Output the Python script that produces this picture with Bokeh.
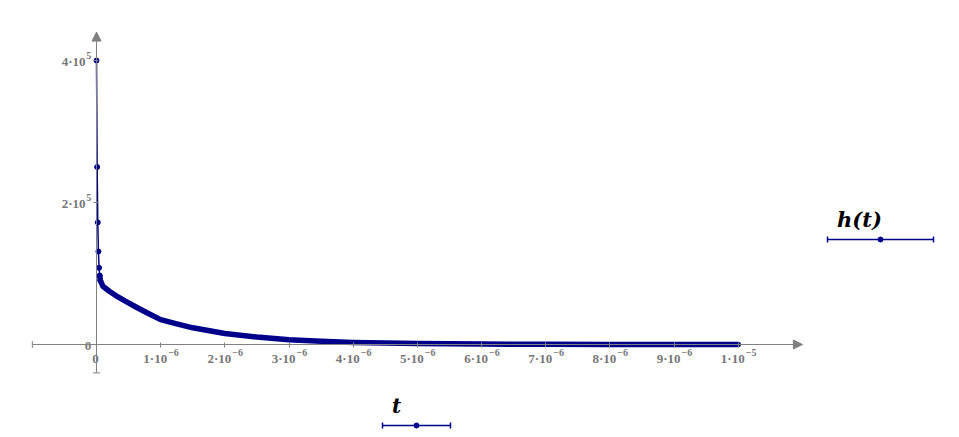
from bokeh.plotting import figure
from bokeh.models import Range1d, LinearAxis, FixedTicker, Arrow, NormalHead, Label
from bokeh.embed import file_html
from bokeh.resources import INLINE

# ---- data ----
t_vals = [0, 1e-8, 2e-8, 3e-8, 4e-8, 5e-8, 6e-8, 8e-8, 1e-7, 2e-7, 3e-7, 4.5e-7,
          6e-7, 8e-7, 1e-6, 1.25e-6, 1.5e-6, 2e-6, 2.5e-6, 3e-6, 3.5e-6, 4e-6,
          5e-6, 6e-6, 7e-6, 8e-6, 9e-6, 1e-5]
h_vals = [400000, 250000, 172000, 131000, 108000, 97000, 90000, 86000, 82000,
          75000, 69000, 61000, 53500, 44000, 35000, 29000, 23500, 15500, 10500,
          6800, 4600, 2900, 1300, 600, 280, 120, 50, 20]
n_fast = 6  # points drawn as separate dots at the start

x_ticks = [1e-6, 2e-6, 3e-6, 4e-6, 5e-6, 6e-6, 7e-6, 8e-6, 9e-6, 1e-5]
x_tick_base = ["1·10", "2·10", "3·10", "4·10", "5·10", "6·10", "7·10", "8·10",
               "9·10", "1·10"]
x_tick_exp = ["−6", "−6", "−6", "−6", "−6", "−6", "−6", "−6", "−6", "−5"]
y_ticks = [200000, 400000]
y_tick_base = ["2·10", "4·10"]
y_tick_exp = ["5", "5"]
zero_label = "0"

x_axis_limits = [-1e-6, 1.1e-5]
y_axis_limits = [-40000, 440000]

trace_label = "h(t)"
axis_var_label = "t"

# ---- layout ----
W, H = 951, 429
X0_PX, X1_PX = 96, 737.7   # page px of t=0 and t=1e-5
Y0_PX, Y1_PX = 344, 60     # page px of h=0 and h=4e5
sx = (X1_PX - X0_PX) / 1e-5
sy = (Y0_PX - Y1_PX) / 4e5

def px2x(px):
    return (px - X0_PX) / sx

def py2y(py):
    return (Y0_PX - py) / sy

x_range = Range1d(px2x(0), px2x(W))
y_range = Range1d(py2y(H), py2y(0))

p = figure(width=W, height=H, x_range=x_range, y_range=y_range,
           output_backend="svg", toolbar_location=None, min_border=0,
           x_axis_type=None, y_axis_type=None)
p.outline_line_color = None
p.background_fill_color = "white"

GRAY = "#808080"
LBL = "#777777"
FONT = "DejaVu Serif"
CURVE = "#00008b"

xaxis = LinearAxis(fixed_location=0, ticker=FixedTicker(ticks=x_ticks))
yaxis = LinearAxis(fixed_location=0, ticker=FixedTicker(ticks=y_ticks))
for ax in (xaxis, yaxis):
    ax.axis_line_color = GRAY
    ax.major_tick_line_color = GRAY
    ax.minor_tick_line_color = None
    ax.major_label_text_color = None
xaxis.bounds = tuple(x_axis_limits)
yaxis.bounds = tuple(y_axis_limits)
xaxis.major_tick_in = 2
xaxis.major_tick_out = 3
yaxis.major_tick_in = 2
yaxis.major_tick_out = 3
p.add_layout(xaxis, "below")
p.add_layout(yaxis, "left")

# tick labels with raised exponents
BASE_FS, EXP_FS = "13px", "10px"
DY = -4.5  # baseline correction
common = dict(text_baseline="alphabetic", text_font=FONT, text_color=LBL,
              text_font_style="bold")
p.text(x=x_ticks, y=[0] * len(x_ticks), text=x_tick_base, x_offset=6.5,
       y_offset=18.5 + DY, text_align="right", text_font_size=BASE_FS, **common)
p.text(x=x_ticks, y=[0] * len(x_ticks), text=x_tick_exp, x_offset=7.5,
       y_offset=12.5 + DY, text_align="left", text_font_size=EXP_FS, **common)
p.text(x=[0] * len(y_ticks), y=y_ticks, text=y_tick_base, x_offset=-11,
       y_offset=5 + DY, text_align="right", text_font_size=BASE_FS, **common)
p.text(x=[0] * len(y_ticks), y=y_ticks, text=y_tick_exp, x_offset=-10.3,
       y_offset=-0.7 + DY, text_align="left", text_font_size=EXP_FS, **common)
p.text(x=[0, 0], y=[0, 0], text=[zero_label, zero_label], x_offset=[-1, -8.5],
       y_offset=[19 + DY, 5.5 + DY], text_align="center", text_font_size=BASE_FS,
       **common)

# arrow heads
p.add_layout(Arrow(end=NormalHead(size=9, fill_color=GRAY, line_color=GRAY, line_width=1),
                   x_start=x_axis_limits[1] * 0.98, y_start=0,
                   x_end=x_axis_limits[1], y_end=0, line_color=GRAY))
p.add_layout(Arrow(end=NormalHead(size=9, fill_color=GRAY, line_color=GRAY, line_width=1),
                   x_start=0, y_start=y_axis_limits[1] * 0.98,
                   x_end=0, y_end=y_axis_limits[1], line_color=GRAY))
# end caps at the low ends
p.scatter([x_axis_limits[0]], [0], marker="dash", size=7, angle=1.5708,
          line_color=GRAY, line_width=1)
p.scatter([0], [y_axis_limits[0]], marker="dash", size=7,
          line_color=GRAY, line_width=1)

# curve
p.line(t_vals, h_vals, line_color=CURVE, line_width=1.5)
p.line(t_vals[n_fast - 1:], h_vals[n_fast - 1:], line_color=CURVE, line_width=5.5,
       line_join="round", line_cap="round")
p.scatter(t_vals[:n_fast + 1], h_vals[:n_fast + 1], marker="circle", size=5,
          fill_color=CURVE, line_color=CURVE)

# trace legend (Mathcad style)
def legend_item(text, tx_px, ty_px, lx_px, ly_px, half_w, fsize):
    p.add_layout(Label(x=px2x(tx_px), y=py2y(ty_px), text=text,
                       text_font=FONT, text_font_size=fsize,
                       text_font_style="bold italic", text_color="black",
                       text_align="center", text_baseline="middle"))
    p.segment(x0=[px2x(lx_px - half_w)], y0=[py2y(ly_px)],
              x1=[px2x(lx_px + half_w)], y1=[py2y(ly_px)],
              line_color=CURVE, line_width=1.5)
    p.scatter([px2x(lx_px - half_w), px2x(lx_px + half_w)], [py2y(ly_px)] * 2,
              marker="dash", angle=1.5708, size=6, line_color=CURVE, line_width=1.5)
    p.scatter([px2x(lx_px)], [py2y(ly_px)], marker="circle", size=5,
              fill_color=CURVE, line_color=CURVE)

legend_item(trace_label, 859, 219, 880, 239, 53, "21px")
legend_item(axis_var_label, 396, 405, 416, 425, 34, "20px")

open("out.html", "w").write(file_html(p, INLINE))
